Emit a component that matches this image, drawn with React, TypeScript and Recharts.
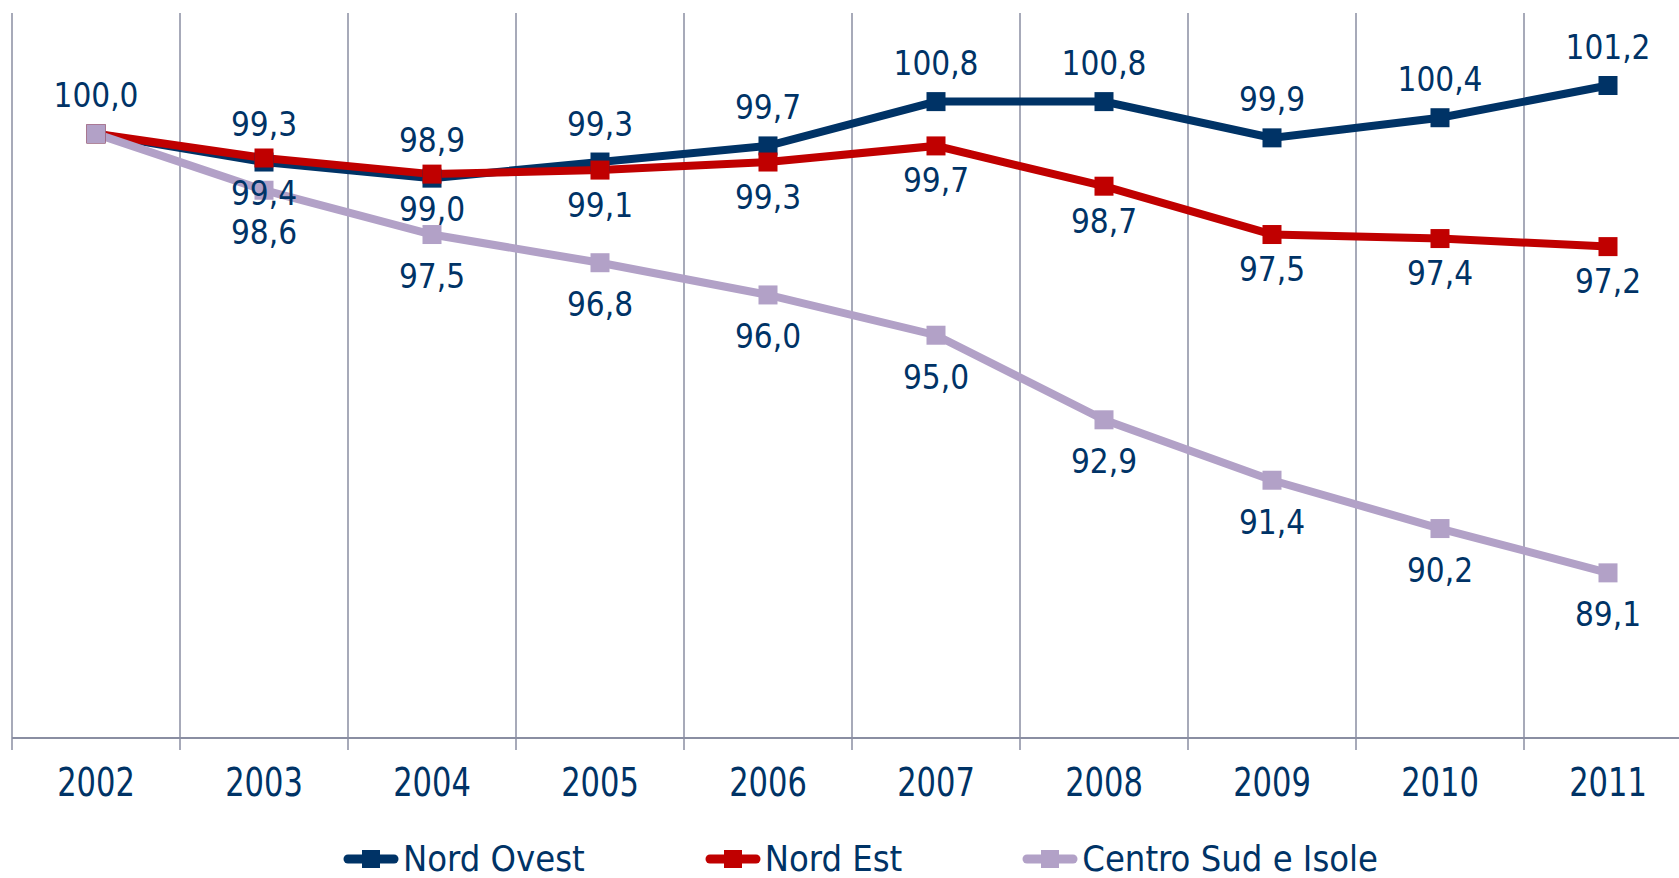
import React from "react";
import {
  LineChart,
  Line,
  XAxis,
  YAxis,
  CartesianGrid,
  Legend,
  LabelList,
} from "recharts";

const years = ["2002", "2003", "2004", "2005", "2006", "2007", "2008", "2009", "2010", "2011"];
const nordOvest = [100.0, 99.3, 98.9, 99.3, 99.7, 100.8, 100.8, 99.9, 100.4, 101.2];
const nordEst = [100.0, 99.4, 99.0, 99.1, 99.3, 99.7, 98.7, 97.5, 97.4, 97.2];
const centroSud = [100.0, 98.6, 97.5, 96.8, 96.0, 95.0, 92.9, 91.4, 90.2, 89.1];

const TEXT = "#003366";
const GRID = "#8A8EA2";
const COND = "'DejaVu Sans Condensed', 'DejaVu Sans', sans-serif";

const SERIES = [
  { key: "nordOvest", name: "Nord Ovest", color: "#003366", dy: -38, skipFirst: false },
  { key: "nordEst", name: "Nord Est", color: "#C00000", dy: 35, skipFirst: true },
  { key: "centroSud", name: "Centro Sud e Isole", color: "#B2A1C7", dy: 42, skipFirst: true },
];

const rows = years.map((year, i) => ({
  year,
  nordOvest: nordOvest[i],
  nordEst: nordEst[i],
  centroSud: centroSud[i],
}));

const fmt = (v: number) => v.toFixed(1).replace(".", ",");

function squareDot(color: string) {
  return (p: any) => {
    if (p.cx == null || p.cy == null) return <g key={p.key} />;
    return <rect key={p.key} x={p.cx - 9.5} y={p.cy - 9.5} width={19} height={19} fill={color} />;
  };
}

function valueLabel(dy: number, skipFirst: boolean) {
  return (p: any) => {
    if (p.value == null) return null;
    if (skipFirst && p.index === 0) return null;
    const vb = p.viewBox || {};
    const x = (vb.x ?? p.x) + (vb.width || 0) / 2;
    const y = (vb.y ?? p.y) + (vb.height || 0) / 2;
    return (
      <text
        x={x}
        y={y + dy}
        fill={TEXT}
        fontSize={33}
        fontFamily={COND}
        textAnchor="middle"
        dominantBaseline="central"
      >
        {fmt(Number(p.value))}
      </text>
    );
  };
}

// year labels are drawn a bit narrower than the condensed face
function YearTick(p: any) {
  return (
    <text
      transform={`translate(${p.x},${p.y + 45}) scale(0.87,1)`}
      fill={TEXT}
      fontSize={39}
      fontFamily={COND}
      textAnchor="middle"
      dominantBaseline="central"
    >
      {p.payload.value}
    </text>
  );
}

function LegendContent() {
  return (
    <div
      style={{
        height: 68,
        boxSizing: "border-box",
        paddingTop: 34,
        paddingLeft: 331,
        display: "flex",
        alignItems: "center",
        gap: 120,
      }}
    >
      {SERIES.map((s) => (
        <div key={s.key} style={{ display: "flex", alignItems: "center", whiteSpace: "nowrap" }}>
          <svg width={56} height={24} style={{ display: "block" }}>
            <line x1={5} y1={12} x2={51} y2={12} stroke={s.color} strokeWidth={9} strokeLinecap="round" />
            <rect x={19} y={3} width={18} height={18} fill={s.color} />
          </svg>
          <span
            style={{
              marginLeft: 4,
              fontFamily: COND,
              fontSize: 36,
              color: TEXT,
              lineHeight: "34px",
            }}
          >
            {s.name}
          </span>
        </div>
      ))}
    </div>
  );
}

export default function App() {
  return (
    <div style={{ width: 1679, height: 878, overflow: "hidden", position: "relative", background: "#fff" }}>
      <style>{`body{margin:0}`}</style>
      <LineChart
        width={1700}
        height={878}
        data={rows}
        margin={{ top: 13, right: 8, left: 12, bottom: 2 }}
      >
        <CartesianGrid
          horizontal={false}
          verticalCoordinatesGenerator={({ offset }: any) =>
            Array.from({ length: years.length + 1 }, (_, i) => offset.left + (i * offset.width) / years.length)
          }
          vertical={(p: any) => (
            <line key={p.key} x1={p.x1} x2={p.x2} y1={p.y1} y2={p.y2 + 12} stroke={GRID} strokeWidth={1.5} />
          )}
        />
        <XAxis
          dataKey="year"
          scale="band"
          height={70}
          interval={0}
          tickLine={false}
          tickSize={0}
          tickMargin={0}
          axisLine={{ stroke: GRID, strokeWidth: 2 }}
          tick={<YearTick />}
        />
        <YAxis hide domain={[85, 103]} type="number" />
        <Legend verticalAlign="bottom" height={68} content={<LegendContent />} />
        {SERIES.map((s) => (
          <Line
            key={s.key}
            dataKey={s.key}
            name={s.name}
            type="linear"
            stroke={s.color}
            strokeWidth={8}
            dot={squareDot(s.color)}
            activeDot={false}
            isAnimationActive={false}
          >
            <LabelList dataKey={s.key} content={valueLabel(s.dy, s.skipFirst)} />
          </Line>
        ))}
      </LineChart>
    </div>
  );
}
